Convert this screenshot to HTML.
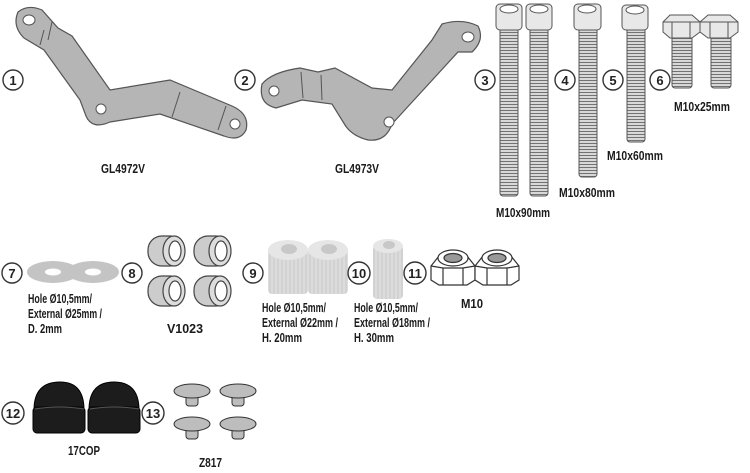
<!DOCTYPE html>
<html><head><meta charset="utf-8"><style>
html,body{margin:0;padding:0;background:#fff;width:750px;height:473px;overflow:hidden}
svg{display:block}
.t{font-family:"Liberation Sans",sans-serif;font-weight:bold;font-size:12.5px;fill:#1a1a1a}
.n{font-family:"Liberation Sans",sans-serif;font-weight:bold;font-size:13px;fill:#222;text-anchor:middle}
.c{fill:#fff;stroke:#333;stroke-width:1.4}
.g{fill:#b5b5b5;stroke:#555;stroke-width:1.2}
</style></head><body>
<svg width="750" height="473" viewBox="0 0 750 473" xmlns="http://www.w3.org/2000/svg">
<defs>
<pattern id="th" width="4" height="3" patternUnits="userSpaceOnUse">
<rect width="4" height="3" fill="#d8d8d8"/><line x1="0" y1="2.5" x2="4" y2="2.5" stroke="#666" stroke-width="0.9"/>
</pattern>
<pattern id="rib" width="4" height="4" patternUnits="userSpaceOnUse">
<rect width="4" height="4" fill="#dcdcdc"/><line x1="2" y1="0" x2="2" y2="4" stroke="#c4c4c4" stroke-width="0.8"/>
</pattern>
</defs>

<!-- bracket 1 -->
<path class="g" d="M18,12 Q28,4 42,10 L58,28 L72,36 L110,90 L170,80 L232,106 Q250,114 246,130 Q240,142 224,136 L160,114 L110,122 Q92,130 86,116 L80,100 L44,50 L24,38 Q12,26 18,12 Z"/>
<ellipse cx="29" cy="20" rx="6" ry="5" fill="#fff" stroke="#555"/>
<ellipse cx="101" cy="109" rx="5" ry="5" fill="#fff" stroke="#555"/>
<ellipse cx="235" cy="124" rx="5" ry="5" fill="#fff" stroke="#555"/>
<line x1="44" y1="30" x2="40" y2="45" stroke="#555"/><line x1="52" y1="22" x2="48" y2="40" stroke="#555"/>
<line x1="180" y1="92" x2="172" y2="117" stroke="#555"/><line x1="226" y1="106" x2="218" y2="130" stroke="#555"/>
<circle class="c" cx="13" cy="80" r="10"/><text class="n" x="13" y="85">1</text>
<text class="t" x="101" y="173" textLength="44" lengthAdjust="spacingAndGlyphs">GL4972V</text>

<!-- bracket 2 -->
<path class="g" d="M262,84 Q272,72 300,68 L318,72 L335,68 L372,88 L392,90 L432,40 L442,24 Q462,18 478,26 Q485,40 472,52 L458,52 L392,124 Q386,142 368,140 Q352,136 345,125 L332,104 L302,100 L276,108 Q258,104 262,84 Z"/>
<circle cx="274" cy="91" r="5" fill="#fff" stroke="#555"/>
<circle cx="389" cy="122" r="5" fill="#fff" stroke="#555"/>
<ellipse cx="468" cy="37" rx="6" ry="5" fill="#fff" stroke="#555"/>
<line x1="301" y1="72" x2="303" y2="98" stroke="#555"/><line x1="321" y1="75" x2="322" y2="100" stroke="#555"/>
<circle class="c" cx="245" cy="80" r="10"/><text class="n" x="245" y="85">2</text>
<text class="t" x="335" y="173" textLength="44" lengthAdjust="spacingAndGlyphs">GL4973V</text>

<!-- long bolts -->
<g stroke="#555" stroke-width="1">
<rect x="500" y="28" width="18" height="168" fill="url(#th)" rx="3"/>
<rect x="496" y="4" width="26" height="26" rx="4" fill="#e8e8e8"/><ellipse cx="509" cy="9" rx="9" ry="4" fill="#fff"/>
<rect x="530" y="28" width="18" height="168" fill="url(#th)" rx="3"/>
<rect x="526" y="4" width="26" height="26" rx="4" fill="#e8e8e8"/><ellipse cx="539" cy="9" rx="9" ry="4" fill="#fff"/>
<rect x="579" y="28" width="18" height="149" fill="url(#th)" rx="3"/>
<rect x="574" y="4" width="27" height="26" rx="4" fill="#e8e8e8"/><ellipse cx="587" cy="9" rx="9" ry="4" fill="#fff"/>
<rect x="627" y="28" width="18" height="114" fill="url(#th)" rx="3"/>
<rect x="622" y="5" width="26" height="25" rx="4" fill="#e8e8e8"/><ellipse cx="635" cy="10" rx="9" ry="4" fill="#fff"/>
<rect x="672" y="36" width="20" height="52" fill="url(#th)" rx="3"/>
<rect x="711" y="36" width="20" height="52" fill="url(#th)" rx="3"/>
<path d="M663,22 L670,15 L692,15 L700,22 L700,32 L692,38 L670,38 L663,32 Z" fill="#e8e8e8"/>
<path d="M700,22 L708,15 L730,15 L738,22 L738,32 L730,38 L708,38 L700,32 Z" fill="#e8e8e8"/>
<line x1="663" y1="22" x2="700" y2="22"/><line x1="700" y1="22" x2="738" y2="22"/>
<line x1="672" y1="22" x2="672" y2="38"/><line x1="690" y1="22" x2="690" y2="38"/>
<line x1="710" y1="22" x2="710" y2="38"/><line x1="728" y1="22" x2="728" y2="38"/>
</g>
<circle class="c" cx="485" cy="80" r="10"/><text class="n" x="485" y="85">3</text>
<circle class="c" cx="565" cy="80" r="10"/><text class="n" x="565" y="85">4</text>
<circle class="c" cx="613" cy="80" r="10"/><text class="n" x="613" y="85">5</text>
<circle class="c" cx="660" cy="80" r="10"/><text class="n" x="660" y="85">6</text>
<text class="t" x="496" y="217" textLength="54" lengthAdjust="spacingAndGlyphs">M10x90mm</text>
<text class="t" x="559" y="197" textLength="56" lengthAdjust="spacingAndGlyphs">M10x80mm</text>
<text class="t" x="607" y="160" textLength="56" lengthAdjust="spacingAndGlyphs">M10x60mm</text>
<text class="t" x="674" y="111" textLength="56" lengthAdjust="spacingAndGlyphs">M10x25mm</text>

<!-- washers 7 -->
<ellipse cx="53" cy="272" rx="26" ry="11" fill="#c4c4c4"/><ellipse cx="53" cy="272" rx="8" ry="3.5" fill="#fff"/>
<ellipse cx="93" cy="272" rx="26" ry="11" fill="#c4c4c4"/><ellipse cx="93" cy="272" rx="8" ry="3.5" fill="#fff"/>
<circle class="c" cx="12" cy="273" r="10"/><text class="n" x="12" y="278">7</text>
<text class="t" x="28" y="303" textLength="64" lengthAdjust="spacingAndGlyphs">Hole Ø10,5mm/</text>
<text class="t" x="28" y="318" textLength="74" lengthAdjust="spacingAndGlyphs">External Ø25mm /</text>
<text class="t" x="28" y="333" textLength="34" lengthAdjust="spacingAndGlyphs">D. 2mm</text>

<!-- V1023 -->
<g stroke="#444" stroke-width="1.2">
<g transform="translate(148,230)"><rect x="0" y="6" width="36" height="30" rx="14" fill="#ccc"/><ellipse cx="26" cy="21" rx="11" ry="15" fill="#ddd"/><ellipse cx="27" cy="21" rx="6" ry="10" fill="#fff"/></g>
<g transform="translate(194,230)"><rect x="0" y="6" width="36" height="30" rx="14" fill="#ccc"/><ellipse cx="26" cy="21" rx="11" ry="15" fill="#ddd"/><ellipse cx="27" cy="21" rx="6" ry="10" fill="#fff"/></g>
<g transform="translate(148,272)"><rect x="0" y="4" width="36" height="30" rx="14" fill="#ccc"/><ellipse cx="26" cy="19" rx="11" ry="15" fill="#ddd"/><ellipse cx="27" cy="19" rx="6" ry="10" fill="#fff"/></g>
<g transform="translate(194,272)"><rect x="0" y="4" width="36" height="30" rx="14" fill="#ccc"/><ellipse cx="26" cy="19" rx="11" ry="15" fill="#ddd"/><ellipse cx="27" cy="19" rx="6" ry="10" fill="#fff"/></g>
</g>
<circle class="c" cx="132" cy="273" r="10"/><text class="n" x="132" y="278">8</text>
<text class="t" x="167" y="333" textLength="36" lengthAdjust="spacingAndGlyphs">V1023</text>

<!-- spacers 9 -->
<rect x="268" y="248" width="40" height="46" rx="4" fill="url(#rib)"/>
<ellipse cx="288" cy="250" rx="20" ry="10" fill="#e6e6e6"/><ellipse cx="289" cy="249" rx="8" ry="5" fill="#c8c8c8"/>
<rect x="308" y="248" width="40" height="46" rx="4" fill="url(#rib)"/>
<ellipse cx="328" cy="250" rx="20" ry="10" fill="#e6e6e6"/><ellipse cx="329" cy="249" rx="8" ry="5" fill="#c8c8c8"/>
<circle class="c" cx="253" cy="273" r="10"/><text class="n" x="253" y="278">9</text>
<text class="t" x="262" y="312" textLength="64" lengthAdjust="spacingAndGlyphs">Hole Ø10,5mm/</text>
<text class="t" x="262" y="327" textLength="76" lengthAdjust="spacingAndGlyphs">External Ø22mm /</text>
<text class="t" x="262" y="342" textLength="40" lengthAdjust="spacingAndGlyphs">H. 20mm</text>

<!-- spacer 10 -->
<rect x="373" y="244" width="30" height="55" rx="4" fill="url(#rib)"/>
<ellipse cx="388" cy="246" rx="15" ry="7" fill="#e6e6e6"/><ellipse cx="389" cy="245" rx="6" ry="4" fill="#c8c8c8"/>
<circle class="c" cx="359" cy="273" r="11"/><text class="n" x="359" y="278">10</text>
<text class="t" x="354" y="312" textLength="64" lengthAdjust="spacingAndGlyphs">Hole Ø10,5mm/</text>
<text class="t" x="354" y="327" textLength="76" lengthAdjust="spacingAndGlyphs">External Ø18mm /</text>
<text class="t" x="354" y="342" textLength="40" lengthAdjust="spacingAndGlyphs">H. 30mm</text>

<!-- nuts 11 -->
<g stroke="#333" stroke-width="1.2" fill="#fff">
<path d="M431,266 L439,256 L467,256 L475,266 L475,280 L467,285 L439,285 L431,280 Z"/><ellipse cx="453" cy="258" rx="15" ry="8"/><ellipse cx="453" cy="258" rx="9" ry="4.5" fill="#999"/>
<line x1="443" y1="268" x2="443" y2="285"/><line x1="463" y1="268" x2="463" y2="285"/><path d="M431,266 L443,268 L463,268 L475,266" fill="none"/>
<path d="M475,266 L483,256 L511,256 L519,266 L519,280 L511,285 L483,285 L475,280 Z"/><ellipse cx="497" cy="258" rx="15" ry="8"/><ellipse cx="497" cy="258" rx="9" ry="4.5" fill="#999"/>
<line x1="487" y1="268" x2="487" y2="285"/><line x1="507" y1="268" x2="507" y2="285"/><path d="M475,266 L487,268 L507,268 L519,266" fill="none"/>
</g>
<circle class="c" cx="415" cy="273" r="11"/><text class="n" x="415" y="278">11</text>
<text class="t" x="461" y="308" textLength="22" lengthAdjust="spacingAndGlyphs">M10</text>

<!-- caps 12 -->
<g fill="#1c1c1c" stroke="#000">
<path d="M34,410 Q34,382 60,382 Q84,382 84,410 Z"/><rect x="33" y="407" width="52" height="26" rx="4"/>
<path d="M89,410 Q89,382 114,382 Q139,382 139,410 Z"/><rect x="88" y="407" width="52" height="26" rx="4"/>
</g>
<path d="M35,409 Q59,405 84,409 M90,409 Q114,405 139,409" stroke="#555" fill="none"/>
<circle class="c" cx="13" cy="413" r="11"/><text class="n" x="13" y="418">12</text>
<text class="t" x="68" y="455" textLength="32" lengthAdjust="spacingAndGlyphs">17COP</text>

<!-- pins 13 -->
<g fill="#bdbdbd" stroke="#333" stroke-width="1">
<rect x="186" y="392" width="12" height="14" rx="3"/><ellipse cx="192" cy="391" rx="18" ry="7"/>
<rect x="232" y="392" width="12" height="14" rx="3"/><ellipse cx="238" cy="391" rx="18" ry="7"/>
<rect x="186" y="425" width="12" height="14" rx="3"/><ellipse cx="192" cy="424" rx="18" ry="7"/>
<rect x="232" y="425" width="12" height="14" rx="3"/><ellipse cx="238" cy="424" rx="18" ry="7"/>
</g>
<circle class="c" cx="153" cy="413" r="11"/><text class="n" x="153" y="418">13</text>
<text class="t" x="199" y="467" textLength="23" lengthAdjust="spacingAndGlyphs">Z817</text>
</svg>
</body></html>
